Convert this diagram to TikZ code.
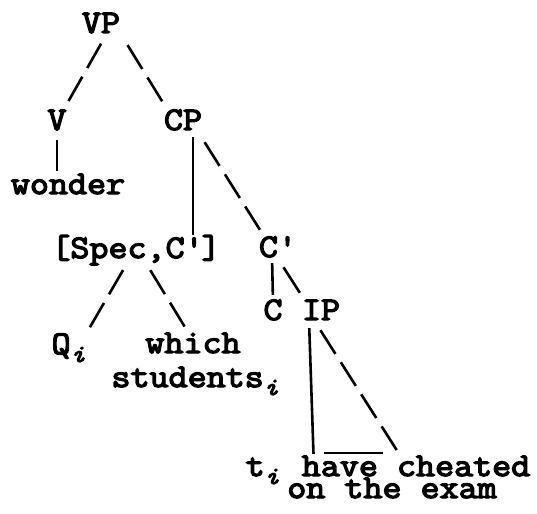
\documentclass[tikz,border=0pt]{standalone}
\usepackage{fontspec}
\setmainfont{Latin Modern Mono}[FakeStretch=1.12, FakeBold=4]
\usetikzlibrary{calc}

\newcommand{\trsub}[1]{\raisebox{-8pt}{\fontsize{25}{25}\selectfont\itshape #1}}
\newcommand{\primebar}{\textquotesingle}

\begin{document}
\begin{tikzpicture}[
    x=1pt, y=-1pt,
    every node/.style={font=\fontsize{33}{33}\selectfont},
    cat/.style={anchor=base, inner sep=0pt, text height=19pt, text depth=0pt},
    branch/.style={line width=2.6pt},
    slash/.style={line width=2.6pt, dash pattern=on 28pt off 10pt}
]
\useasboundingbox (0,0) rectangle (537,513);

% Top - VP and its daughters
\node[cat] (vp) at (101,33) {VP};
\node[cat] (v) at (57,130) {V};
\node[cat] (cp) at (183,130) {CP};
\node[cat] (wonder) at (68,194) {wonder};

% Middle - specifier and C'
\node[cat] (spec) at (136,258) {[Spec,C\primebar]};
\node[cat] (cbar) at (277,257) {C\primebar};
\node[cat] (c) at (273,320) {C};
\node[cat] (ip) at (321,320) {IP};

% Specifier daughters
\node[cat] (qi) at (68.5,354) {Q\trsub{i}};
\node[cat] (which) at (193,353) {which};
\node[cat] (students) at (195,387) {students\trsub{i}};

% Bottom - IP material
\node[cat] (trace) at (262.5,476) {t\trsub{i}};
\node[cat] (have) at (416,476) {have cheated};
\node[cat] (exam) at (392,498) {on the exam};

% Branches from VP
\draw[slash, shorten <=12pt, shorten >=9pt] ([xshift=6pt]vp.south) -- ([xshift=6pt]v.north);
\draw[slash, shorten <=14pt, shorten >=10.6pt] (vp.south east) -- ([xshift=-15pt]cp.north);
\draw[branch, shorten <=10pt, shorten >=4pt] (v.south) -- (v.south |- wonder.north);

% Branches from CP
\draw[branch, shorten <=7pt, shorten >=4pt] ([xshift=10pt]cp.south) -- ([xshift=10pt]cp.south |- spec.north);
\draw[slash, shorten <=14.2pt, shorten >=9.5pt] ([xshift=14pt]cp.south) -- ([xshift=-12pt]cbar.north);

% Branches from [Spec,C']
\draw[slash, shorten <=13.8pt, shorten >=8pt] ([xshift=-6pt]spec.south) -- ([xshift=17pt]qi.north);
\draw[slash, shorten <=14pt, shorten >=7pt] ([xshift=7pt]spec.south) -- ([xshift=-4pt]which.north);

% Branches from C'
\draw[branch, shorten <=6pt, shorten >=6pt] ([xshift=-5pt]cbar.south) -- (c.north);
\draw[branch, shorten <=12pt, shorten >=9.5pt] (cbar.south) -- ([xshift=-16pt]ip.north);

% Triangle under IP
\draw[branch, shorten <=8pt, shorten >=3pt] ([xshift=-12pt]ip.south) -- ([xshift=12pt]have.north west);
\draw[slash, shorten <=11.9pt, shorten >=4.8pt] ([xshift=-7pt]ip.south) -- ([xshift=-15pt]have.north);
\draw[branch] ([shift={(22pt,4pt)}]have.north west) -- ([shift={(81pt,4pt)}]have.north west);

\end{tikzpicture}
\end{document}
